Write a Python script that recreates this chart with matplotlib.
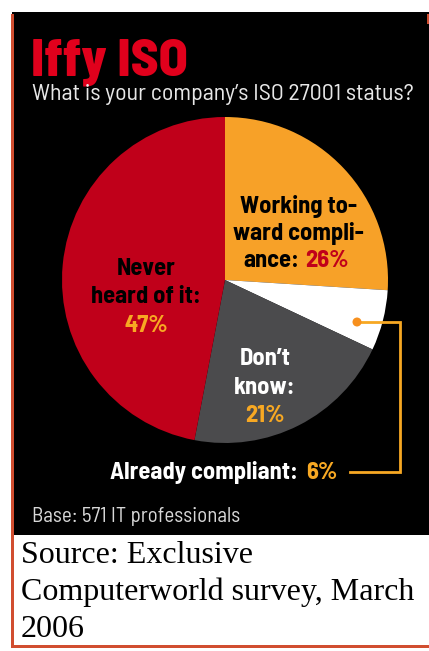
import matplotlib
matplotlib.use("Agg")
import matplotlib.pyplot as plt
from matplotlib.patches import Rectangle, Circle

# ---- data ----
categories = ["Working toward compliance", "Already compliant", "Don't know", "Never heard of it"]
values = [26, 6, 21, 47]
colors = ["#f7a128", "#ffffff", "#4b4b4d", "#c0001a"]
title = "Iffy ISO"
subtitle = "What is your company\u2019s ISO 27001 status?"
base_note = "Base: 571 IT professionals"
source_lines = ["Source: Exclusive", "Computerworld survey, March", "2006"]

W, H = 429, 651
fig = plt.figure(figsize=(W / 100, H / 100), dpi=100)
fig.patch.set_facecolor("white")
ax = fig.add_axes([0, 0, 1, 1])

def Y(y):
    return H - y

NARROW = ["Barlow Semi Condensed", "Barlow Condensed", "DejaVu Sans"]
SERIF = ["Liberation Serif", "DejaVu Serif"]
PX = 0.72  # px -> pt at dpi 100
ST = "condensed"

# pie
cx, cy, r = 225, 280, 163
ax.pie(values, colors=colors, startangle=90, counterclock=False,
       center=(cx, Y(cy)), radius=r, frame=True,
       wedgeprops=dict(linewidth=0, edgecolor="none", zorder=2))
ax.set_xlim(0, W)
ax.set_ylim(0, H)
ax.set_aspect("auto")
ax.axis("off")

# black panel
ax.add_patch(Rectangle((12, Y(535)), W - 12, 535 - 12, facecolor="black", edgecolor="none", zorder=0))
# borders
ax.add_patch(Rectangle((11, Y(648)), 3, 648 - 14, facecolor="#d14e30", edgecolor="none", zorder=5))
ax.add_patch(Rectangle((11, Y(648)), W - 11, 3, facecolor="#d14e30", edgecolor="none", zorder=5))
ax.add_patch(Rectangle((427, Y(24)), 2, 10, facecolor="#d14e30", edgecolor="none", zorder=5))

# title & subtitle
ax.text(31, Y(75), title, color="#e1001c", fontsize=53 * PX, fontweight=800, fontstretch=ST,
        family=NARROW, ha="left", va="baseline")
ax.text(32, Y(100), subtitle, color="#e8e8e8", fontsize=24 * PX, fontweight=400, fontstretch=ST,
        family=NARROW, ha="left", va="baseline")

LBL = 24.5 * PX
YEL = "#f7a823"

def lab(x, y, txt, c, ha="center"):
    ax.text(x, Y(y), txt, color=c, fontsize=LBL, fontweight=700, fontstretch=ST,
            family=NARROW, ha=ha, va="baseline", zorder=8)

# Never heard of it
for txt, yb, c in [("Never", 275, "black"), ("heard of it:", 303, "black"), ("47%", 332, YEL)]:
    lab(146, yb, txt, c)

# Working toward compliance
for txt, yb in [("Working to-", 213), ("ward compli-", 240)]:
    lab(298, yb, txt, "black")
lab(299, 267, "ance:", "black", ha="right")
lab(305, 267, "26%", "#c0001a", ha="left")

# Don't know
for txt, yb, c in [("Don\u2019t", 365, "white"), ("know:", 394, "white"), ("21%", 422, YEL)]:
    lab(265, yb, txt, c)

# Already compliant
lab(298, 479, "Already compliant:", "white", ha="right")
lab(306, 479, "6%", YEL, ha="left")

# callout
ax.plot([357, 400, 400, 350], [Y(322), Y(322), Y(472), Y(472)], color="#f7a823",
        linewidth=2, solid_joinstyle="miter", zorder=6)
ax.add_patch(Circle((357, Y(322)), 4.5, facecolor="#f7901e", edgecolor="none", zorder=7))

# base note
ax.text(32, Y(522), base_note, color="#d8d8d8", fontsize=21 * PX, fontstretch=ST, family=NARROW,
        ha="left", va="baseline")

# source
for txt, yb in zip(source_lines, [563, 600, 637]):
    ax.text(21, Y(yb), txt, color="black", fontsize=32 * PX, family=SERIF,
            ha="left", va="baseline")

fig.savefig("out.png", dpi=100, facecolor="white")
